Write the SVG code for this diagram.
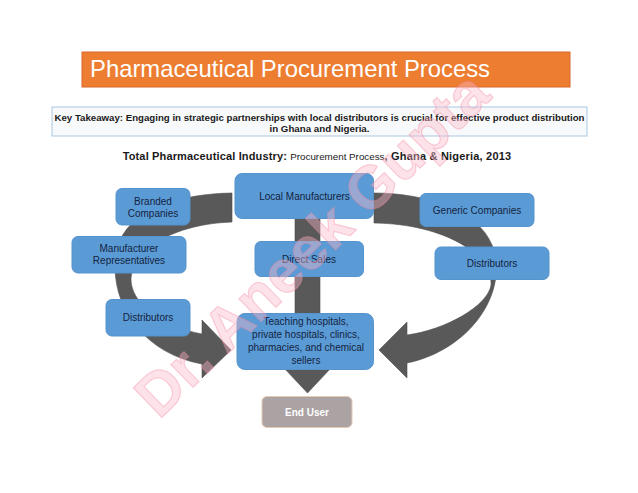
<svg xmlns="http://www.w3.org/2000/svg" width="638" height="493" viewBox="0 0 638 493">
<style>
.node rect{fill:#5B9BD5;stroke:#5593CC;stroke-width:1}
.node text{font-family:"Liberation Sans",Arial,sans-serif;font-size:10px;fill:#13233F;text-anchor:middle}
.arrow{fill:#595959;stroke:#4F4F4F;stroke-width:0.6}
.wm{font-family:"Liberation Sans",Arial,sans-serif;font-weight:bold;font-size:60px;fill:#F9B9C8;fill-opacity:0.4;stroke:#F28AA4;stroke-opacity:0.38;stroke-width:1.2}
</style>
<rect width="638" height="493" fill="#FFFFFF"/>
<g id="title">
<rect x="82" y="52" width="488" height="35" fill="#ED7D31" stroke="#D8692A" stroke-width="1"/>
<text x="90" y="77" font-family="'Liberation Sans',Arial,sans-serif" font-size="24" fill="#FFFFFF" textLength="400" lengthAdjust="spacingAndGlyphs">Pharmaceutical Procurement Process</text>
</g>
<g id="takeaway">
<rect x="52" y="107" width="535" height="29" fill="#F8F9FB" stroke="#A9C7E2" stroke-width="1"/>
<text x="319.5" y="121" font-family="'Liberation Sans',Arial,sans-serif" font-size="9" font-weight="bold" fill="#1A1A1A" text-anchor="middle" textLength="530" lengthAdjust="spacingAndGlyphs">Key Takeaway: Engaging in strategic partnerships with local distributors is crucial for effective product distribution</text>
<text x="319.5" y="132" font-family="'Liberation Sans',Arial,sans-serif" font-size="9" font-weight="bold" fill="#1A1A1A" text-anchor="middle" textLength="100" lengthAdjust="spacingAndGlyphs">in Ghana and Nigeria.</text>
</g>
<g id="subtitle">
<text x="317" y="160" font-family="'Liberation Sans',Arial,sans-serif" fill="#1A1A1A" text-anchor="middle"><tspan font-size="11" font-weight="bold" letter-spacing="0.15">Total Pharmaceutical Industry: </tspan><tspan font-size="9.8">Procurement Process</tspan><tspan font-size="11" font-weight="bold" letter-spacing="0.2">, Ghana &amp; Nigeria, 2013</tspan></text>
</g>
<g id="connectors">
<path class="arrow" d="M 232 193 C 180 194, 135 208, 120 240 C 102 290, 135 352, 202 364 L 202 378 L 231 350 L 202 320 L 202 334 C 160 326, 130 302, 131 278 C 134 248, 175 224, 232 222 Z"/>
<path class="arrow" d="M 374 193 C 425 193, 478 210, 492 245 C 510 292, 470 350, 407 363 L 407 378 L 379 350 L 407 322 L 407 335 C 445 330, 488 306, 491 285 C 493 255, 445 224, 374 223 Z"/>
<path class="arrow" d="M 295 215 L 320 215 L 320 352 L 346 352 L 307.5 393 L 269 352 L 295 352 Z"/>
</g>
<g id="branded" class="node"><rect x="116" y="188.5" width="74" height="36.5" rx="6"/><text x="153" y="204.5">Branded</text><text x="153" y="217">Companies</text></g>
<g id="local" class="node"><rect x="235" y="173.5" width="138.5" height="45" rx="7"/><text x="304.5" y="200">Local Manufacturers</text></g>
<g id="generic" class="node"><rect x="420" y="193.5" width="114" height="33" rx="6"/><text x="477" y="214">Generic Companies</text></g>
<g id="reps" class="node"><rect x="72" y="236.5" width="114" height="36.5" rx="6"/><text x="129" y="251.5">Manufacturer</text><text x="129" y="264">Representatives</text></g>
<g id="direct" class="node"><rect x="255" y="241.5" width="108.5" height="35" rx="6"/><text x="309" y="263">Direct Sales</text></g>
<g id="dist-right" class="node"><rect x="435" y="247" width="114" height="32.5" rx="6"/><text x="492" y="267">Distributors</text></g>
<g id="dist-left" class="node"><rect x="106" y="299.5" width="84" height="36.5" rx="6"/><text x="148" y="321">Distributors</text></g>
<g id="hospitals" class="node"><rect x="237" y="313.5" width="136.5" height="56" rx="8"/><text x="306" y="324.5">Teaching hospitals,</text><text x="306" y="337.8">private hospitals, clinics,</text><text x="306" y="351">pharmacies, and chemical</text><text x="306" y="364.3">sellers</text></g>
<g id="enduser"><rect x="262" y="396.5" width="90" height="31" rx="5" fill="#ABA3A3" stroke="#E6C9B4" stroke-width="1"/><text x="307" y="416" font-family="'Liberation Sans',Arial,sans-serif" font-size="10" font-weight="bold" fill="#FFFFFF" text-anchor="middle">End User</text></g>
<g id="watermark"><text class="wm" x="0" y="0" text-anchor="middle" transform="translate(326 259) rotate(-44)">Dr. Aneek Gupta</text></g>
</svg>
